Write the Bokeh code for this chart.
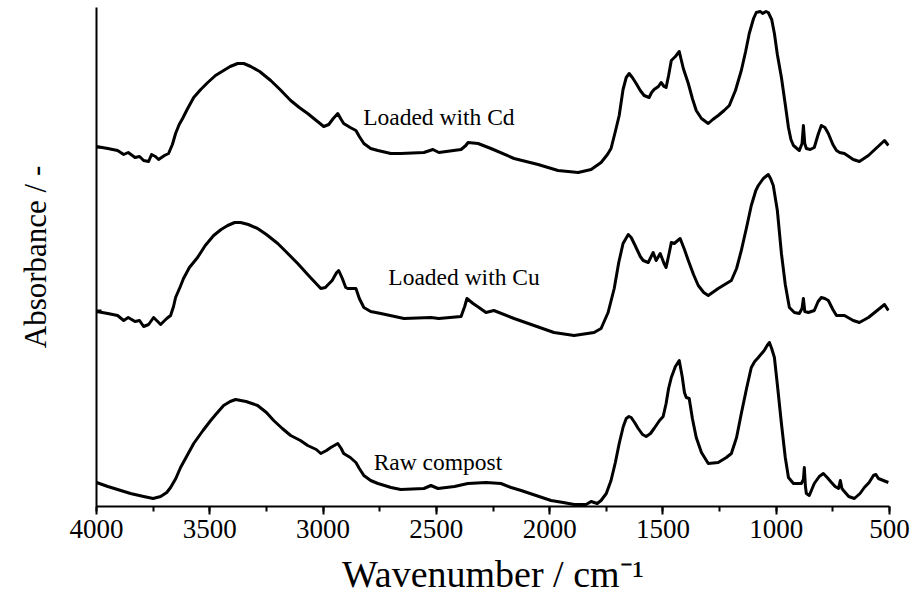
from bokeh.core.properties import value
from bokeh.embed import file_html
from bokeh.models import CustomJSTickFormatter, FixedTicker, Range1d, SingleIntervalTicker
from bokeh.plotting import figure
from bokeh.resources import INLINE

# FTIR spectra: (wavenumber in cm-1, offset absorbance in arbitrary units)
spectrum_cd = [
    (4000, 72.0), (3950, 71.6), (3907, 71.2), (3880, 70.4), (3860, 70.8), (3830, 69.8),
    (3810, 70.0), (3792, 69.2), (3770, 69.0), (3757, 70.4), (3740, 70.0), (3726, 69.4),
    (3700, 70.2), (3682, 70.6), (3665, 72.4), (3651, 74.6), (3635, 76.4), (3620, 77.6),
    (3600, 79.4), (3571, 81.8), (3540, 83.4), (3509, 84.8), (3475, 86.2), (3439, 87.2),
    (3410, 88.0), (3377, 88.6), (3350, 88.6), (3319, 88.0), (3280, 87.0), (3231, 85.2),
    (3190, 83.4), (3143, 81.2), (3105, 79.8), (3068, 78.6), (3030, 77.2), (2997, 76.0),
    (2975, 76.4), (2955, 77.6), (2935, 78.6), (2920, 77.4), (2909, 76.6), (2880, 75.8),
    (2855, 75.2), (2840, 74.0), (2820, 72.6), (2790, 71.6), (2758, 71.2), (2701, 70.6),
    (2657, 70.6), (2555, 70.8), (2515, 71.4), (2489, 70.8), (2391, 71.4), (2370, 72.2),
    (2360, 72.8), (2316, 72.6), (2259, 71.6), (2157, 69.6), (2051, 68.4), (1963, 67.2),
    (1874, 66.8), (1817, 67.4), (1773, 68.8), (1745, 70.4), (1729, 71.6), (1710, 75.0),
    (1693, 78.2), (1676, 83.4), (1662, 85.8), (1649, 86.6), (1635, 85.8), (1618, 84.6),
    (1600, 83.2), (1583, 82.2), (1561, 81.8), (1550, 82.8), (1539, 83.4), (1520, 84.0),
    (1508, 84.8), (1495, 84.0), (1486, 83.8), (1475, 86.2), (1463, 89.2), (1445, 90.0),
    (1428, 91.0), (1410, 87.6), (1388, 84.6), (1370, 81.6), (1353, 79.2), (1330, 77.6),
    (1300, 76.6), (1280, 77.4), (1256, 78.2), (1230, 79.2), (1207, 80.2), (1180, 83.2),
    (1154, 87.2), (1135, 91.0), (1119, 94.6), (1100, 97.6), (1088, 98.8), (1070, 99.0),
    (1060, 98.6), (1045, 99.0), (1035, 98.8), (1020, 97.4), (1008, 94.6), (995, 90.4),
    (977, 85.8), (960, 80.4), (946, 75.8), (935, 73.4), (924, 72.2), (898, 71.2),
    (886, 72.6), (880, 76.2), (874, 72.6), (867, 71.6), (850, 71.4), (832, 71.8),
    (815, 74.4), (801, 76.2), (785, 75.8), (770, 74.6), (750, 72.4), (734, 71.2),
    (720, 70.8), (699, 70.6), (660, 69.4), (633, 69.0), (593, 70.2), (560, 71.6),
    (522, 73.2), (505, 72.2),
]

spectrum_cu = [
    (4000, 39.0), (3950, 38.6), (3907, 38.2), (3880, 37.2), (3860, 37.8), (3830, 37.0),
    (3810, 37.2), (3792, 36.0), (3770, 36.4), (3748, 37.8), (3730, 37.0), (3717, 36.4),
    (3690, 37.6), (3673, 38.2), (3660, 40.0), (3651, 41.8), (3630, 44.0), (3616, 45.6),
    (3590, 47.8), (3554, 49.8), (3520, 52.2), (3483, 54.2), (3450, 55.4), (3421, 56.2),
    (3390, 56.8), (3364, 56.8), (3330, 56.4), (3289, 55.6), (3250, 54.4), (3200, 52.6),
    (3160, 50.8), (3112, 48.6), (3060, 46.0), (3010, 43.6), (2990, 43.8), (2960, 45.2),
    (2940, 46.8), (2931, 47.2), (2915, 45.6), (2900, 43.8), (2891, 43.6), (2870, 43.6),
    (2855, 43.6), (2840, 41.6), (2820, 39.8), (2790, 39.0), (2745, 38.6), (2643, 37.6),
    (2524, 37.8), (2489, 37.6), (2391, 38.0), (2375, 40.0), (2365, 41.6), (2338, 40.6),
    (2312, 39.8), (2281, 38.8), (2246, 39.2), (2157, 37.6), (2069, 36.2), (1981, 34.8),
    (1892, 34.2), (1804, 34.8), (1773, 35.6), (1742, 38.8), (1715, 43.6), (1695, 48.8),
    (1676, 52.6), (1653, 54.4), (1640, 53.8), (1627, 52.6), (1600, 50.0), (1587, 49.2),
    (1565, 48.8), (1543, 50.8), (1530, 49.2), (1512, 50.6), (1495, 48.6), (1486, 47.8),
    (1470, 51.2), (1463, 52.8), (1450, 52.6), (1424, 53.6), (1405, 51.4), (1388, 49.2),
    (1365, 46.4), (1344, 44.2), (1320, 42.8), (1300, 42.2), (1256, 43.6), (1220, 44.6),
    (1198, 45.2), (1175, 47.6), (1154, 51.2), (1130, 56.0), (1110, 60.2), (1090, 63.2),
    (1079, 64.2), (1057, 65.6), (1035, 66.4), (1025, 65.6), (1013, 64.2), (995, 59.2),
    (977, 50.6), (960, 44.4), (942, 39.8), (920, 38.8), (898, 38.6), (886, 39.6),
    (880, 41.6), (874, 39.0), (858, 38.8), (832, 39.2), (815, 41.0), (801, 41.8),
    (785, 41.6), (770, 41.2), (750, 39.4), (734, 38.2), (699, 38.2), (660, 37.2),
    (633, 36.8), (593, 37.8), (560, 39.0), (522, 40.4), (505, 39.2),
]

spectrum_raw = [
    (4000, 4.8), (3950, 4.0), (3907, 3.4), (3850, 2.6), (3792, 2.0), (3750, 1.6),
    (3717, 2.0), (3690, 2.8), (3673, 3.8), (3650, 5.6), (3629, 7.8), (3600, 10.2),
    (3571, 12.6), (3530, 15.2), (3496, 17.2), (3470, 18.6), (3439, 20.2), (3410, 21.0),
    (3386, 21.4), (3340, 21.0), (3289, 20.2), (3250, 18.8), (3218, 17.2), (3180, 15.6),
    (3143, 14.2), (3100, 13.2), (3068, 12.2), (3030, 11.4), (3010, 10.6), (2985, 11.2),
    (2966, 11.8), (2935, 12.6), (2920, 11.6), (2909, 10.6), (2880, 9.8), (2855, 8.8),
    (2840, 7.6), (2820, 6.2), (2790, 5.2), (2758, 4.6), (2700, 3.8), (2657, 3.4),
    (2555, 3.6), (2524, 4.2), (2493, 3.6), (2420, 4.0), (2361, 4.6), (2280, 4.8),
    (2215, 4.6), (2170, 3.8), (2126, 3.2), (2060, 2.2), (1994, 1.2), (1940, 0.8),
    (1892, 0.4), (1839, 0.4), (1817, 1.0), (1790, 0.6), (1773, 1.2), (1750, 2.6),
    (1729, 5.2), (1710, 8.8), (1693, 12.6), (1675, 16.0), (1662, 17.6), (1650, 18.0),
    (1640, 17.8), (1625, 16.8), (1609, 15.6), (1590, 14.4), (1574, 14.0), (1555, 14.6),
    (1539, 15.6), (1515, 17.2), (1499, 18.0), (1486, 20.6), (1475, 23.6), (1463, 25.8),
    (1445, 28.0), (1428, 29.2), (1415, 26.0), (1405, 22.8), (1397, 21.8), (1384, 21.6),
    (1370, 17.6), (1353, 13.8), (1330, 10.8), (1300, 8.6), (1256, 8.8), (1220, 9.8),
    (1198, 10.6), (1175, 13.8), (1154, 18.6), (1130, 23.8), (1110, 27.8), (1095, 29.0),
    (1079, 29.8), (1053, 31.2), (1040, 32.2), (1030, 32.8), (1020, 31.6), (1008, 29.8),
    (995, 24.4), (977, 16.6), (960, 9.8), (946, 5.8), (924, 4.6), (889, 4.6),
    (880, 5.4), (876, 7.8), (871, 4.0), (867, 2.6), (854, 2.2), (832, 4.6),
    (810, 6.0), (792, 6.6), (775, 5.8), (756, 4.8), (740, 4.0), (725, 3.6),
    (717, 5.2), (710, 3.6), (703, 3.2), (680, 2.0), (655, 1.6), (630, 2.6),
    (611, 3.8), (590, 4.8), (571, 6.2), (560, 6.4), (549, 5.6), (505, 4.8),
]

sample_names = ["Loaded with Cd", "Loaded with Cu", "Raw compost"]
name_x = [2489, 2378, 2493]
name_y = [78.0, 46.0, 9.0]

x_tick_interval = 500
y_marks = [71.8, 39.2]

SERIF = "Liberation Serif"

p = figure(width=916, height=599, x_range=Range1d(4000, 500), y_range=Range1d(0, 99.8),
           output_backend="svg", toolbar_location=None,
           min_border_left=96, min_border_right=27, min_border_top=7, min_border_bottom=93)
p.outline_line_color = None
p.xgrid.visible = False
p.ygrid.visible = False
p.background_fill_color = "white"
p.border_fill_color = "white"

for spectrum in (spectrum_cd, spectrum_cu, spectrum_raw):
    xs = [pt[0] for pt in spectrum]
    ys = [pt[1] for pt in spectrum]
    p.line(xs, ys, line_color="black", line_width=3, line_join="round")

p.text(x=name_x, y=name_y, text=sample_names, text_font=value(SERIF),
       text_font_size="23.5px", text_align="center", text_baseline="middle",
       text_color="black")

xa = p.xaxis[0]
xa.ticker = SingleIntervalTicker(interval=x_tick_interval, num_minor_ticks=2)
xa.axis_line_width = 2
xa.major_tick_line_width = 2
xa.minor_tick_line_width = 2
xa.major_tick_in = 0
xa.major_tick_out = 8
xa.minor_tick_in = 0
xa.minor_tick_out = 5
xa.major_label_text_font = SERIF
xa.major_label_text_font_size = "27px"
xa.major_label_standoff = 5
xa.major_label_text_color = "black"
xa.axis_label = "Wavenumber / cm\u207b\u00b9"
xa.axis_label_text_font = SERIF
xa.axis_label_text_font_size = "38px"
xa.axis_label_text_font_style = "normal"
xa.axis_label_text_color = "black"
xa.axis_label_standoff = 12

ya = p.yaxis[0]
ya.ticker = FixedTicker(ticks=y_marks)
ya.formatter = CustomJSTickFormatter(code="return ''")
ya.axis_line_width = 2
ya.major_tick_line_width = 2
ya.major_tick_in = 5
ya.major_tick_out = 0
ya.minor_tick_line_color = None
ya.major_label_standoff = 0
ya.axis_label = "Absorbance / -"
ya.axis_label_text_font = SERIF
ya.axis_label_text_font_size = "31px"
ya.axis_label_text_font_style = "normal"
ya.axis_label_text_color = "black"
ya.axis_label_standoff = 44

open("out.html", "w").write(file_html(p, INLINE))
